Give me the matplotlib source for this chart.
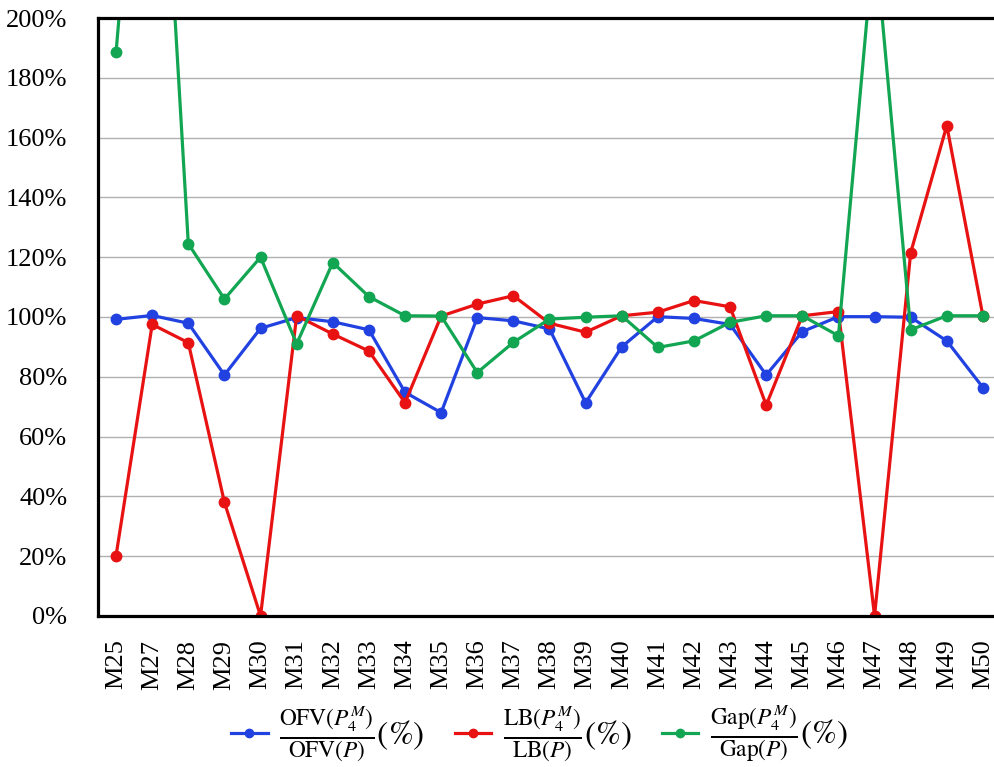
import matplotlib
matplotlib.use("Agg")
import matplotlib.pyplot as plt

plt.rcParams['font.family'] = ['Liberation Serif', 'DejaVu Serif']
plt.rcParams['mathtext.fontset'] = 'stix'

# categories (M26 is absent in the source)
models = ['M25', 'M27', 'M28', 'M29', 'M30', 'M31', 'M32', 'M33', 'M34', 'M35',
          'M36', 'M37', 'M38', 'M39', 'M40', 'M41', 'M42', 'M43', 'M44', 'M45',
          'M46', 'M47', 'M48', 'M49', 'M50']

# ratios in percent
ofv = [99.2, 100.5, 97.9, 80.6, 96.2, 99.8, 98.4, 95.7, 74.8, 68.0,
       99.8, 98.7, 96.0, 71.3, 90.0, 100.1, 99.5, 97.5, 80.6, 95.1,
       100.1, 100.1, 99.9, 92.0, 76.4]
lb = [20.2, 97.5, 91.4, 38.0, 0.0, 100.4, 94.3, 88.6, 71.3, 100.3,
      104.3, 107.1, 97.9, 94.9, 100.4, 101.6, 105.5, 103.4, 70.5, 100.4,
      101.8, 0.0, 121.5, 164.0, 100.3]
gap = [188.6, 330.0, 124.5, 106.0, 120.0, 91.0, 118.2, 106.8, 100.4, 100.3,
       81.4, 91.5, 99.3, 99.9, 100.4, 89.8, 92.0, 98.2, 100.4, 100.4,
       93.7, 228.0, 95.7, 100.4, 100.4]

labels = [r'$\frac{\mathrm{OFV}(P_4^M)}{\mathrm{OFV}(P)}(\%)$',
          r'$\frac{\mathrm{LB}(P_4^M)}{\mathrm{LB}(P)}(\%)$',
          r'$\frac{\mathrm{Gap}(P_4^M)}{\mathrm{Gap}(P)}(\%)$']
colors = ['#2142e0', '#e81212', '#12a552']

fig = plt.figure(figsize=(9.95, 7.67), dpi=100)
ax = fig.add_axes([0.0985, 0.197, 0.9075, 0.7795])

x = range(len(models))
for vals, lab, col in zip([ofv, lb, gap], labels, colors):
    ax.plot(x, vals, color=col, lw=2.3, marker='o', markersize=7.5, label=lab)

ax.set_xlim(-0.5, len(models) - 0.5)
ax.set_ylim(0, 200)
ax.set_yticks(range(0, 201, 20))
ax.set_yticklabels([f'{v}%' for v in range(0, 201, 20)])
ax.set_xticks(list(x))
ax.set_xticklabels(models, rotation=90)
ax.tick_params(axis='y', length=0, pad=22, labelsize=19)
ax.tick_params(axis='x', length=0, pad=17, labelsize=19)
ax.yaxis.grid(True, color='#b0b0b0', lw=1)
ax.set_axisbelow(True)
for s in ['left', 'top', 'bottom']:
    ax.spines[s].set_linewidth(2.3)
    ax.spines[s].set_color('black')
ax.spines['right'].set_visible(False)

fig.legend(loc='center', bbox_to_anchor=(0.542, 0.042), ncol=3, frameon=False,
           fontsize=24, handlelength=1.1, handletextpad=0.35, columnspacing=0.9,
           markerscale=0.8)

fig.savefig('out.png', dpi=100)
